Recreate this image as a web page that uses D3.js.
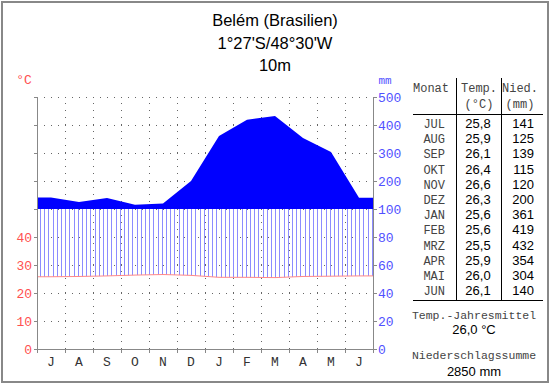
<!DOCTYPE html>
<html><head><meta charset="utf-8">
<script src="https://cdn.jsdelivr.net/npm/d3@7"></script>
<style>
html,body{margin:0;padding:0;background:#fff;}
svg{display:block;}
</style></head>
<body>
<script>
const months = ["JUL","AUG","SEP","OKT","NOV","DEZ","JAN","FEB","MRZ","APR","MAI","JUN"];
const monthLetters = ["J","A","S","O","N","D","J","F","M","A","M","J"];
const tempLabels = ["25,8","25,9","26,1","26,4","26,6","26,3","25,6","25,6","25,5","25,9","26,0","26,1"];
const temps = [25.8,25.9,26.1,26.4,26.6,26.3,25.6,25.6,25.5,25.9,26.0,26.1];
const precip = [141,125,139,115,120,200,361,419,432,354,304,140];
const tempTicks = [0,10,20,30,40];
const precipTicks = [0,20,40,60,80,100,200,300,400,500];
const gridLevelsMm = [20,40,60,80,100,200,300,400,500];
const titleLines = ["Belém (Brasilien)","1°27'S/48°30'W","10m"];
const annualMean = "26,0 °C";
const annualSum = "2850 mm";

const W = 550, H = 384;
const svg = d3.select("body").append("svg").attr("width", W).attr("height", H);
svg.append("rect").attr("x",0).attr("y",0).attr("width",W).attr("height",H).attr("fill","#fff");
svg.append("rect").attr("x",2).attr("y",2).attr("width",546).attr("height",380)
  .attr("fill","none").attr("stroke","#888").attr("stroke-width",2);

const x = d3.scaleLinear().domain([0,12]).range([37,373]);
const yP = d3.scaleLinear().domain([0,100,500]).range([349,209,97]);
const yT = d3.scaleLinear().domain([0,50]).range([349,209]);

// title
svg.selectAll("text.title").data(titleLines).join("text")
  .attr("x",275).attr("y",(d,i)=>26+i*22.5).attr("text-anchor","middle")
  .attr("font-family","Liberation Sans, Arial, sans-serif").attr("font-size",16.5).attr("fill","#000")
  .text(d=>d);

// grid
const g = svg.append("g");
g.selectAll("line.hg").data(gridLevelsMm).join("line")
  .attr("x1",x(0)).attr("x2",x(12)).attr("y1",d=>yP(d)+0.5).attr("y2",d=>yP(d)+0.5)
  .attr("stroke","#666").attr("stroke-width",1).attr("stroke-dasharray","1,6");
g.selectAll("line.vg").data(d3.range(1,12)).join("line")
  .attr("x1",d=>x(d)+0.5).attr("x2",d=>x(d)+0.5).attr("y1",yP(0)).attr("y2",yP(500))
  .attr("stroke","#666").attr("stroke-width",1).attr("stroke-dasharray","1,6");

// series points (centered months, flat to edges)
function pts(arr){
  const p = arr.map((v,i)=>[i+0.5,v]);
  return [[0,arr[0]],...p,[12,arr[11]]];
}
const pP = pts(precip), pT = pts(temps);
function interp(points, xv){
  for(let i=0;i<points.length-1;i++){
    const a=points[i], b=points[i+1];
    if(xv>=a[0] && xv<=b[0]){ const t=(xv-a[0])/(b[0]-a[0]||1); return a[1]+t*(b[1]-a[1]); }
  }
  return points[points.length-1][1];
}

// humid hatch
const hatch = svg.append("g");
const step = 4.2;
for(let px = x(0)+3; px < x(12); px += step){
  const xv = x.invert(px);
  const p = interp(pP,xv), t = interp(pT,xv)*2;
  if(p > t){
    hatch.append("line").attr("x1",Math.round(px)+0.5).attr("x2",Math.round(px)+0.5)
      .attr("y1",yT(t/2)).attr("y2",yP(Math.min(p,100)))
      .attr("stroke","#8c8cff").attr("stroke-width",1);
  }
}

// perhumid fill above 100mm
const area = d3.area().x(d=>x(d[0])).y0(yP(100)).y1(d=>yP(Math.max(d[1],100)));
svg.append("path").datum(pP).attr("d",area).attr("fill","#0000ff");

// temperature line
svg.append("path").datum(pT)
  .attr("d",d3.line().x(d=>x(d[0])).y(d=>yT(d[1])))
  .attr("fill","none").attr("stroke","#ff8888").attr("stroke-width",1);

// axes
const axisColor = "#888";
svg.append("line").attr("x1",x(0)+0.5).attr("x2",x(0)+0.5).attr("y1",yP(500)).attr("y2",yP(0)).attr("stroke",axisColor);
svg.append("line").attr("x1",x(12)+0.5).attr("x2",x(12)+0.5).attr("y1",yP(500)).attr("y2",yP(0)).attr("stroke",axisColor);
svg.append("line").attr("x1",x(0)).attr("x2",x(12)).attr("y1",yP(0)+0.5).attr("y2",yP(0)+0.5).attr("stroke",axisColor);
// ticks
svg.selectAll("line.lt").data([0].concat(gridLevelsMm)).join("line")
  .attr("x1",x(0)-3).attr("x2",x(0)).attr("y1",d=>yP(d)+0.5).attr("y2",d=>yP(d)+0.5).attr("stroke",axisColor);
svg.selectAll("line.rt").data([0].concat(gridLevelsMm)).join("line")
  .attr("x1",x(12)).attr("x2",x(12)+4).attr("y1",d=>yP(d)+0.5).attr("y2",d=>yP(d)+0.5).attr("stroke",axisColor);
svg.selectAll("line.bt").data(d3.range(0,13)).join("line")
  .attr("x1",d=>x(d)+0.5).attr("x2",d=>x(d)+0.5).attr("y1",yP(0)).attr("y2",yP(0)+4).attr("stroke",axisColor);

const mono = "Liberation Mono, Courier New, monospace";
svg.selectAll("text.tl").data(tempTicks).join("text")
  .attr("x",32).attr("y",d=>yT(d)+4.5).attr("text-anchor","end")
  .attr("font-family",mono).attr("font-size",13).attr("fill","#ff5050").text(d=>d);
svg.selectAll("text.pl").data(precipTicks).join("text")
  .attr("x",378).attr("y",d=>yP(d)+4.5).attr("text-anchor","start")
  .attr("font-family",mono).attr("font-size",13).attr("fill","#5050ff").text(d=>d);
svg.selectAll("text.ml").data(monthLetters).join("text")
  .attr("x",(d,i)=>x(i+0.5)).attr("y",366).attr("text-anchor","middle")
  .attr("font-family",mono).attr("font-size",13).attr("fill","#333").text(d=>d);
svg.append("text").attr("x",24).attr("y",84).attr("text-anchor","middle")
  .attr("font-family",mono).attr("font-size",13).attr("fill","#ff5050").text("°C");
svg.append("text").attr("x",385).attr("y",84).attr("text-anchor","middle")
  .attr("font-family",mono).attr("font-size",11).attr("fill","#5050ff").text("mm");

// table
const sans = "Liberation Sans, Arial, sans-serif";
const tb = svg.append("g");
const hdr = (txt, cx, cy) => tb.append("text").attr("x",cx).attr("y",cy).attr("text-anchor","middle")
  .attr("font-family",mono).attr("font-size",12).attr("fill","#444").text(txt);
hdr("Monat",431,92); hdr("Temp.",479,92); hdr("(°C)",479,108); hdr("Nied.",520,92); hdr("(mm)",520,108);
tb.append("line").attr("x1",456.5).attr("x2",456.5).attr("y1",78).attr("y2",301).attr("stroke","#000");
tb.append("line").attr("x1",501.5).attr("x2",501.5).attr("y1",78).attr("y2",301).attr("stroke","#000");
tb.append("line").attr("x1",413).attr("x2",543).attr("y1",114.5).attr("y2",114.5).attr("stroke","#000");
tb.append("line").attr("x1",413).attr("x2",543).attr("y1",300.5).attr("y2",300.5).attr("stroke","#000");
const rowY = i => 128 + i*15.2;
tb.selectAll("text.mn").data(months).join("text")
  .attr("x",445).attr("y",(d,i)=>rowY(i)).attr("text-anchor","end")
  .attr("font-family",mono).attr("font-size",12).attr("fill","#444").text(d=>d);
tb.selectAll("text.tv").data(tempLabels).join("text")
  .attr("x",478).attr("y",(d,i)=>rowY(i)).attr("text-anchor","middle")
  .attr("font-family",sans).attr("font-size",13).attr("fill","#000").text(d=>d);
tb.selectAll("text.pv").data(precip).join("text")
  .attr("x",534).attr("y",(d,i)=>rowY(i)).attr("text-anchor","end")
  .attr("font-family",sans).attr("font-size",13).attr("fill","#000").text(d=>d);
tb.append("text").attr("x",474).attr("y",319).attr("text-anchor","middle").attr("font-family",mono).attr("font-size",11.5).attr("fill","#444").text("Temp.-Jahresmittel");
tb.append("text").attr("x",474).attr("y",334).attr("text-anchor","middle").attr("font-family",sans).attr("font-size",13).attr("fill","#000").text(annualMean);
tb.append("text").attr("x",474).attr("y",359).attr("text-anchor","middle").attr("font-family",mono).attr("font-size",11.5).attr("fill","#444").text("Niederschlagssumme");
tb.append("text").attr("x",474).attr("y",376).attr("text-anchor","middle").attr("font-family",sans).attr("font-size",13).attr("fill","#000").text(annualSum);
</script>
</body></html>
